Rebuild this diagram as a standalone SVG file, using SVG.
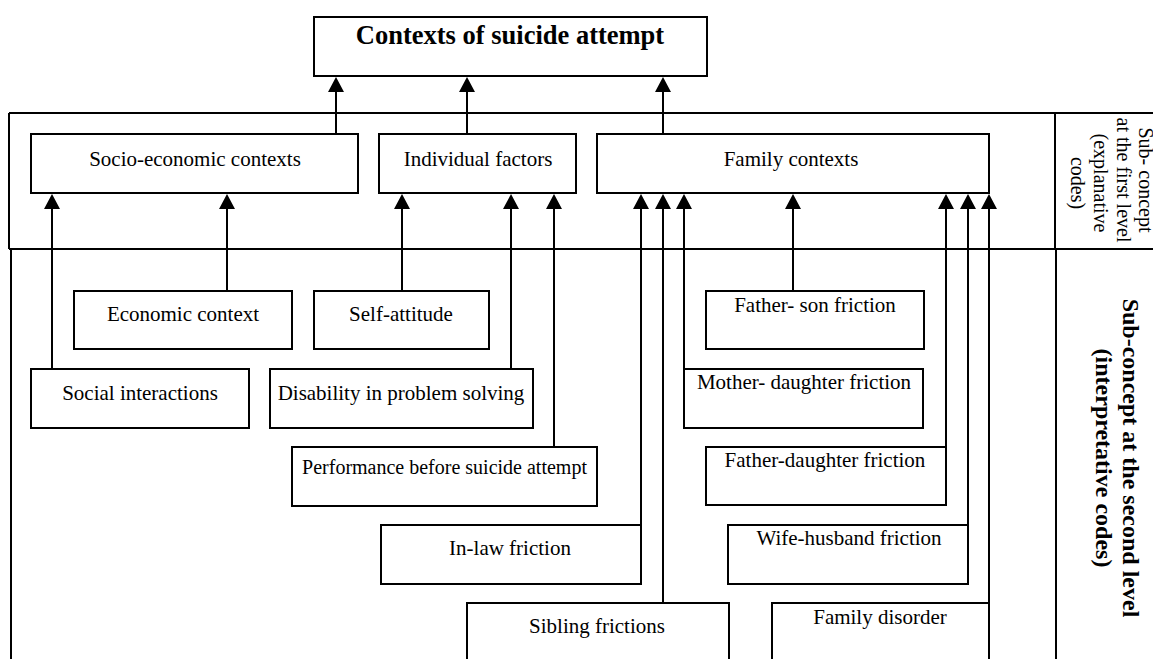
<svg xmlns="http://www.w3.org/2000/svg" width="1153" height="659" viewBox="0 0 1153 659">
<style>
.box{fill:#fff;stroke:#000;stroke-width:2}
.frame{fill:none;stroke:#000;stroke-width:2}
.t{font-family:"Liberation Serif","Times New Roman",serif;font-size:21px;fill:#000;text-anchor:middle}
.t20{font-size:20px}
.title{font-size:26.5px;font-weight:bold}
.side{font-family:"Liberation Serif","Times New Roman",serif;font-size:20px;fill:#000;text-anchor:middle}
.sideb{font-family:"Liberation Serif","Times New Roman",serif;font-size:24px;font-weight:bold;fill:#000;text-anchor:middle}
.c{stroke:#000;stroke-width:2;fill:none;marker-end:url(#arr)}
</style>
<defs>
<marker id="arr" markerUnits="userSpaceOnUse" markerWidth="16" markerHeight="16" refX="0" refY="8" orient="auto">
<path d="M0,0 L15,8 L0,16 Z" fill="#000"/>
</marker>
</defs>
<rect width="1153" height="659" fill="#fff"/>
<g id="frames">
<path class="frame" d="M9,113 H1153 M9,113 V249 M9,249 H1153 M1055,113 V249 M11,250 V659 M1056,250 V659"/>
</g>
<g id="label-first-level">
<text class="side" transform="rotate(90 1139 180)" x="1139" y="180">Sub- concept</text>
<text class="side" transform="rotate(90 1117 180)" x="1117" y="180">at the first level</text>
<text class="side" transform="rotate(90 1094 183)" x="1094" y="183">(explanative</text>
<text class="side" transform="rotate(90 1071 183)" x="1071" y="183">codes)</text>
</g>
<g id="label-second-level">
<text class="sideb" transform="rotate(90 1123 458)" x="1123" y="458">Sub-concept at the second level</text>
<text class="sideb" transform="rotate(90 1096 458)" x="1096" y="458">(interpretative codes)</text>
</g>
<g id="connectors">
<line class="c" x1="336" y1="134" x2="336" y2="92"/>
<line class="c" x1="467" y1="134" x2="467" y2="92"/>
<line class="c" x1="663" y1="134" x2="663" y2="92"/>
<line class="c" x1="52" y1="369" x2="52" y2="209"/>
<line class="c" x1="227" y1="291" x2="227" y2="209"/>
<line class="c" x1="402" y1="291" x2="402" y2="209"/>
<line class="c" x1="511" y1="369" x2="511" y2="209"/>
<line class="c" x1="554" y1="447" x2="554" y2="209"/>
<line class="c" x1="641" y1="525" x2="641" y2="209"/>
<line class="c" x1="663" y1="603" x2="663" y2="209"/>
<line class="c" x1="684" y1="369" x2="684" y2="209"/>
<line class="c" x1="793" y1="291" x2="793" y2="209"/>
<line class="c" x1="946" y1="447" x2="946" y2="209"/>
<line class="c" x1="968" y1="525" x2="968" y2="209"/>
<line class="c" x1="989" y1="603" x2="989" y2="209"/>
</g>
<g id="root">
<rect class="box" x="314" y="17" width="393" height="59"/>
<text class="t title" x="510" y="44">Contexts of suicide attempt</text>
</g>
<g id="socio-economic">
<rect class="box" x="31" y="134" width="327" height="59"/>
<text class="t" x="195" y="166">Socio-economic contexts</text>
</g>
<g id="individual">
<rect class="box" x="379" y="134" width="197" height="59"/>
<text class="t" x="478" y="166">Individual factors</text>
</g>
<g id="family">
<rect class="box" x="597" y="134" width="392" height="59"/>
<text class="t" x="791" y="166">Family contexts</text>
</g>
<g id="economic">
<rect class="box" x="74" y="291" width="218" height="58"/>
<text class="t" x="183" y="321">Economic context</text>
</g>
<g id="self-attitude">
<rect class="box" x="314" y="291" width="175" height="58"/>
<text class="t" x="401" y="321">Self-attitude</text>
</g>
<g id="social">
<rect class="box" x="31" y="369" width="218" height="59"/>
<text class="t" x="140" y="400">Social interactions</text>
</g>
<g id="disability">
<rect class="box" x="270" y="369" width="263" height="59"/>
<text class="t" x="401" y="400">Disability in problem solving</text>
</g>
<g id="performance">
<rect class="box" x="292" y="447" width="305" height="59"/>
<text class="t t20" x="444.5" y="474">Performance before suicide attempt</text>
</g>
<g id="in-law">
<rect class="box" x="381" y="525" width="260" height="59"/>
<text class="t" x="510" y="555">In-law friction</text>
</g>
<g id="sibling">
<rect class="box" x="467" y="603" width="262" height="70"/>
<text class="t" x="597" y="633">Sibling frictions</text>
</g>
<g id="father-son">
<rect class="box" x="706" y="291" width="218" height="58"/>
<text class="t" x="815" y="312">Father- son friction</text>
</g>
<g id="mother-daughter">
<rect class="box" x="684" y="369" width="239" height="59"/>
<text class="t" x="804" y="389">Mother- daughter friction</text>
</g>
<g id="father-daughter">
<rect class="box" x="706" y="447" width="240" height="58"/>
<text class="t" x="825" y="467">Father-daughter friction</text>
</g>
<g id="wife-husband">
<rect class="box" x="728" y="525" width="240" height="59"/>
<text class="t" x="849" y="545">Wife-husband friction</text>
</g>
<g id="family-disorder">
<rect class="box" x="772" y="603" width="217" height="70"/>
<text class="t" x="880" y="624">Family disorder</text>
</g>
</svg>
